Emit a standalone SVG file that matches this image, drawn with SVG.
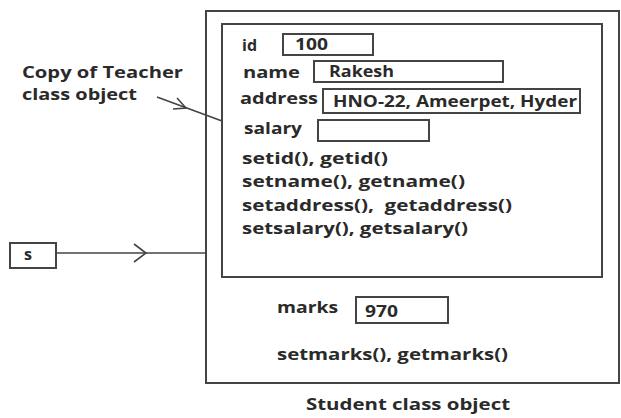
<svg xmlns="http://www.w3.org/2000/svg" width="621" height="418" viewBox="0 0 621 418">
<style>
text{font-family:"Open Sans","Liberation Sans",sans-serif;font-weight:700;font-size:16px;fill:#2a2a2a}
.box{fill:#fff;stroke:#444;stroke-width:2}
.ln{fill:none;stroke:#444;stroke-width:1.6}
</style>
<rect width="621" height="418" fill="#fff"/>
<g id="student">
<rect class="box" x="206" y="11" width="413" height="372"/>
<text x="306" y="410" textLength="204" lengthAdjust="spacingAndGlyphs">Student class object</text>
</g>
<g id="teacher">
<rect class="box" x="222" y="24" width="380" height="253"/>
<text x="242" y="51" textLength="15" lengthAdjust="spacingAndGlyphs">id</text>
<rect class="box" x="283" y="34" width="90" height="21"/>
<text x="295" y="50" textLength="33" lengthAdjust="spacingAndGlyphs">100</text>
<text x="243" y="78" textLength="57" lengthAdjust="spacingAndGlyphs">name</text>
<rect class="box" x="314" y="61" width="189" height="21"/>
<text x="329" y="77" textLength="65" lengthAdjust="spacingAndGlyphs">Rakesh</text>
<text x="240" y="104" textLength="78" lengthAdjust="spacingAndGlyphs">address</text>
<rect class="box" x="323" y="89" width="257" height="24"/>
<text x="333" y="107" textLength="244" lengthAdjust="spacingAndGlyphs">HNO-22, Ameerpet, Hyder</text>
<text x="244" y="134" textLength="58" lengthAdjust="spacingAndGlyphs">salary</text>
<rect class="box" x="318" y="120" width="111" height="21"/>
<text x="242" y="164" textLength="146" lengthAdjust="spacingAndGlyphs">setid(), getid()</text>
<text x="242" y="187" textLength="223" lengthAdjust="spacingAndGlyphs">setname(), getname()</text>
<text x="242" y="211" textLength="270" lengthAdjust="spacingAndGlyphs" xml:space="preserve">setaddress(),  getaddress()</text>
<text x="242" y="234" textLength="226" lengthAdjust="spacingAndGlyphs">setsalary(), getsalary()</text>
</g>
<g id="marks">
<text x="277" y="313" textLength="61" lengthAdjust="spacingAndGlyphs">marks</text>
<rect class="box" x="356" y="297" width="92" height="26"/>
<text x="365" y="317" textLength="33" lengthAdjust="spacingAndGlyphs">970</text>
<text x="277" y="360" textLength="231" lengthAdjust="spacingAndGlyphs">setmarks(), getmarks()</text>
</g>
<g id="s">
<rect class="box" x="10" y="243" width="46" height="25"/>
<text x="24" y="260" textLength="8" lengthAdjust="spacingAndGlyphs">s</text>
</g>
<g id="label">
<text x="22" y="78" textLength="161" lengthAdjust="spacingAndGlyphs">Copy of Teacher</text>
<text x="22" y="100" textLength="115" lengthAdjust="spacingAndGlyphs">class object</text>
</g>
<g id="connectors">
<line class="ln" x1="56" y1="253" x2="206" y2="253"/>
<polyline class="ln" points="134,244 146,253 134,262"/>
<line class="ln" x1="157" y1="97" x2="222" y2="121"/>
<polyline class="ln" points="177,98 186,108 173,109"/>
</g>
</svg>
